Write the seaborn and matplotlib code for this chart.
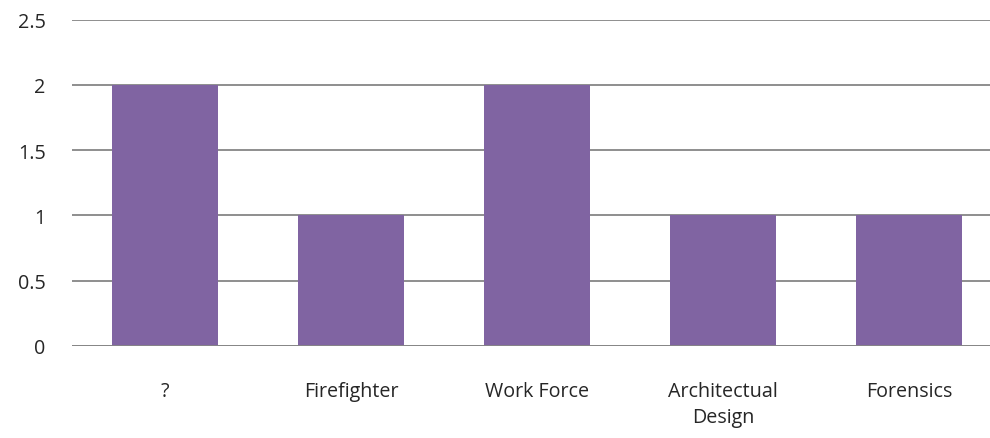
import pandas as pd
import matplotlib
matplotlib.use("Agg")
import matplotlib.pyplot as plt
import seaborn as sns

categories = ["?", "Firefighter", "Work Force", "Architectual\nDesign", "Forensics"]
counts = [2, 1, 2, 1, 1]
y_ticks = [0, 0.5, 1, 1.5, 2, 2.5]
y_labels = ["0", "0.5", "1", "1.5", "2", "2.5"]

df = pd.DataFrame({"category": categories, "count": counts})

sns.set_style("white")
plt.rcParams["font.family"] = ["Open Sans", "DejaVu Sans"]

W, H = 990, 439
fig = plt.figure(figsize=(W / 100, H / 100), dpi=100)
left, right = 72, 990
top, bottom = 20.5, 347
ax = fig.add_axes([left / W, (H - bottom) / H, (right - left) / W, (bottom - top) / H])

sns.barplot(data=df, x="category", y="count", color="#8064A2",
            saturation=1, width=0.57, linewidth=0, ax=ax, zorder=3)

ax.set_xlim(-0.5, -0.5 + (right - left) / 186)
ax.set_ylim(0, 2.5)
ax.set_yticks(y_ticks)
ax.set_yticklabels(y_labels)
ax.yaxis.grid(True, color="#868686", linewidth=1.3, zorder=0)
ax.set_axisbelow(True)
for s in ax.spines.values():
    s.set_visible(False)
ax.axhline(0, color="#868686", linewidth=1.3, zorder=4)

ax.set_xlabel("")
ax.set_ylabel("")
ax.tick_params(axis="y", length=0, pad=19, labelsize=14.2)
ax.tick_params(axis="x", length=0, pad=25, labelsize=14.2)
for lbl in ax.get_xticklabels():
    lbl.set_linespacing(1.45)

fig.savefig("out.png", dpi=100)
